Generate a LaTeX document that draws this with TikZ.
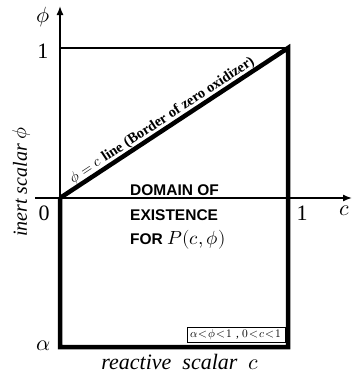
\documentclass[tikz,border=0pt]{standalone}
\usepackage{fontspec}
\setmainfont{Liberation Serif}
\setsansfont{Liberation Sans}
\usepackage{unicode-math}
\setmathfont{Latin Modern Math}
\usetikzlibrary{arrows.meta}
\begin{document}
\begin{tikzpicture}[x=1pt,y=-1pt,
  thinline/.style={line width=1.4pt},
  thickline/.style={line width=4.5pt},
  ticklabel/.style={font=\fontsize{22}{22}\selectfont, inner sep=0pt},
  axislabel/.style={font=\fontsize{20}{20}\selectfont\itshape, inner sep=0pt},
  domaintext/.style={font=\sffamily\bfseries\fontsize{15.5}{15.5}\selectfont, inner sep=0pt, anchor=west}]
\useasboundingbox (0,0) rectangle (352,375);
\coordinate (O) at (60,198);
\coordinate (TL) at (60,48);
\coordinate (TR) at (288,48);
\coordinate (BL) at (60,347);
\coordinate (BR) at (288,347);
\coordinate (xs) at (35,198);
\coordinate (xe) at (352,198);
\coordinate (ye) at (60,6);
% axes
\draw[thinline,-{Latex[length=9pt,width=7pt]}] (xs) -- (xe);
\draw[thinline,-{Latex[length=9pt,width=7pt]}] (O) -- (ye);
\draw[thinline] (TL) -- (TR);
% thick boundary
\draw[thickline,line join=miter] (O) -- (TR) -- (BR) -- (BL) -- (O);
% tick labels
\node[ticklabel] (phi) at (43,17) {$\phi$};
\node[ticklabel] (one) at (43,51) {1};
\node[ticklabel] (zero) at (44,213) {0};
\node[ticklabel] (alpha) at (44,346) {$\alpha$};
\node[ticklabel] (onex) at (302,213) {1};
\node[ticklabel] (cx) at (345,211) {$c$};
% axis labels
\node[axislabel, rotate=90] (ylab) at (22,182) {inert scalar $\phi$};
\node[axislabel, font=\fontsize{22}{22}\selectfont\itshape] (xlab) at (180,362) {reactive\ \ scalar\ \ $c$};
% diagonal label
\path (O) -- (TR) node[pos=0.47, sloped, above=1.8pt, inner sep=0pt,
  font=\bfseries\fontsize{14.5}{14.5}\selectfont] (diag)
  {$\phi=c$ line (Border of zero oxidizer)};
% domain text
\node[domaintext] (d1) at (130,190) {DOMAIN OF};
\node[domaintext] (d2) at (130,215) {EXISTENCE};
\node[domaintext] (d3) at (130,240) {FOR \normalfont\fontsize{19}{19}\selectfont$P(c,\phi)$};
% constraint box
\node[draw, line width=0.8pt, inner sep=0pt, font=\fontsize{11.5}{11.5}\selectfont,
  minimum width=98pt, minimum height=15pt] (box) at (236,334.5)
  {\thickmuskip=1.5mu$\alpha<\phi<1$\,\,,\,\,$0<c<1$};
\end{tikzpicture}
\end{document}
